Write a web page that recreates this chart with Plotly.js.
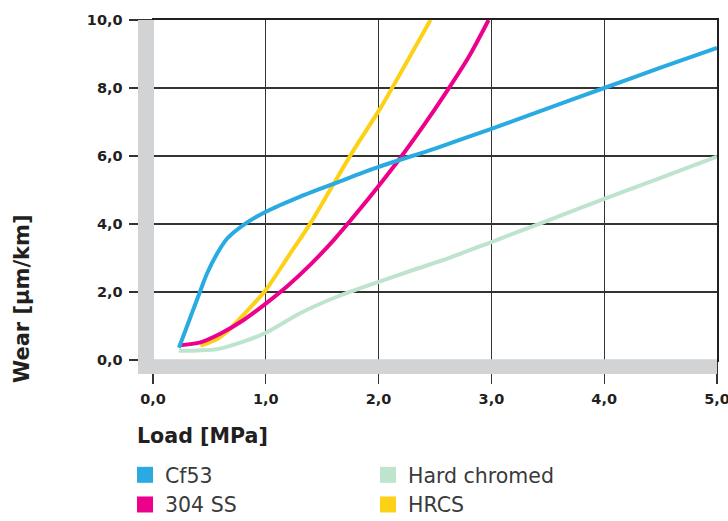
<!DOCTYPE html>
<html>
<head>
<meta charset="utf-8">
<script src="https://cdn.plot.ly/plotly-3.0.1.min.js"></script>
<style>html,body{margin:0;padding:0;background:#fff;}#chart{width:728px;height:521px;}</style>
</head>
<body>
<div id="chart"></div>
<script>
// ---- data ----
const seriesNames = ["Cf53", "Hard chromed", "304 SS", "HRCS"];

const cf53Load = [0.23, 0.3, 0.4, 0.48, 0.57, 0.66, 0.8, 1.0, 1.3, 1.63, 2.0, 2.5, 3.0, 3.5, 4.0, 4.5, 5.0];
const cf53Wear = [0.36, 0.98, 1.86, 2.55, 3.14, 3.58, 3.97, 4.36, 4.8, 5.22, 5.68, 6.22, 6.8, 7.4, 8.0, 8.6, 9.18];

const hardLoad = [0.23, 0.4, 0.57, 0.8, 1.0, 1.3, 1.63, 2.0, 2.3, 2.64, 3.0, 3.5, 4.0, 4.5, 5.0];
const hardWear = [0.27, 0.28, 0.32, 0.54, 0.8, 1.37, 1.86, 2.3, 2.64, 3.02, 3.47, 4.1, 4.74, 5.36, 5.98];

const ssLoad = [0.23, 0.42, 0.6, 0.8, 1.0, 1.2, 1.4, 1.6, 1.8, 2.0, 2.2, 2.4, 2.6, 2.8, 2.975];
const ssWear = [0.43, 0.52, 0.78, 1.17, 1.66, 2.2, 2.82, 3.52, 4.3, 5.12, 5.98, 6.9, 7.88, 8.92, 10.0];

const hrcsLoad = [0.42, 0.57, 0.656, 0.8, 1.0, 1.2, 1.395, 1.587, 1.78, 2.015, 2.2, 2.46];
const hrcsWear = [0.42, 0.62, 0.83, 1.32, 2.06, 3.05, 4.02, 5.1, 6.18, 7.4, 8.47, 10.0];

const xTickVals = [0, 1, 2, 3, 4, 5];
const xTickText = ["0,0", "1,0", "2,0", "3,0", "4,0", "5,0"];
const yTickVals = [0, 2, 4, 6, 8, 10];
const yTickText = ["0,0", "2,0", "4,0", "6,0", "8,0", "10,0"];

// ---- styles ----
const colors = {"Cf53": "#29abe2", "Hard chromed": "#bfe4cd", "304 SS": "#ec008c", "HRCS": "#fcd116"};
const LW = 4;
const FONT = "DejaVu Sans, Arial, sans-serif";

function lineTrace(name, x, y) {
  return {x: x, y: y, type: "scatter", mode: "lines", name: name, showlegend: false,
          line: {color: colors[name], width: LW, shape: "spline", smoothing: 0.8}, hoverinfo: "skip"};
}
function legendProxy(name) {
  return {x: [null], y: [null], type: "scatter", mode: "markers", name: name, showlegend: true,
          marker: {symbol: "square", size: 16, color: colors[name]}, hoverinfo: "skip"};
}

const traces = [
  lineTrace("Hard chromed", hardLoad, hardWear),
  lineTrace("HRCS", hrcsLoad, hrcsWear),
  lineTrace("304 SS", ssLoad, ssWear),
  lineTrace("Cf53", cf53Load, cf53Wear),
  legendProxy("Cf53"),
  legendProxy("Hard chromed"),
  legendProxy("304 SS"),
  legendProxy("HRCS")
];

const W = 728, H = 521;
const mL = 153, mR = 11, mT = 20, mB = 161;
const pw = W - mL - mR, ph = H - mT - mB;
const px = v => (v - mL) / pw;      // pixel -> paper x
const py = v => (H - mB - v) / ph;  // pixel -> paper y

const layout = {
  width: W, height: H,
  margin: {l: mL, r: mR, t: mT, b: mB, pad: 0, autoexpand: false},
  paper_bgcolor: "#ffffff", plot_bgcolor: "#ffffff",
  font: {family: FONT, color: "#231f20"},
  showlegend: true,
  xaxis: {
    range: [0, 5], fixedrange: true, automargin: false,
    tickvals: xTickVals, ticktext: xTickText, ticklabeloverflow: "allow", ticklabelstandoff: 3,
    ticks: "outside", ticklen: 22, tickwidth: 1.3, tickcolor: "#333333",
    tickfont: {family: FONT, size: 14.5, color: "#231f20", weight: "bold"},
    showgrid: true, gridcolor: "#333333", gridwidth: 1.3,
    zeroline: false,
    showline: true, mirror: true, linecolor: "#231f20", linewidth: 2
  },
  yaxis: {
    range: [0, 10], fixedrange: true, automargin: false,
    tickvals: yTickVals, ticktext: yTickText, ticklabeloverflow: "allow", ticklabelstandoff: 3,
    ticks: "outside", ticklen: 23, tickwidth: 1.3, tickcolor: "#333333",
    tickfont: {family: FONT, size: 14.5, color: "#231f20", weight: "bold"},
    showgrid: true, gridcolor: "#333333", gridwidth: 1.3,
    zeroline: false,
    showline: true, mirror: true, linecolor: "#231f20", linewidth: 1.5
  },
  shapes: [
    {type: "rect", xref: "paper", yref: "paper", layer: "above",
     x0: px(138), x1: px(154), y0: py(374), y1: 1, fillcolor: "#d1d3d4", line: {width: 0}},
    {type: "rect", xref: "paper", yref: "paper", layer: "above",
     x0: px(138), x1: 1, y0: py(374), y1: py(359.3), fillcolor: "#d1d3d4", line: {width: 0}}
  ],
  annotations: [
    {text: "Wear [µm/km]", xref: "paper", yref: "paper", x: px(22), y: py(299),
     xanchor: "center", yanchor: "middle", textangle: -90, showarrow: false,
     font: {family: FONT, size: 21, color: "#231f20", weight: "bold"}},
    {text: "Load [MPa]", xref: "paper", yref: "paper", x: px(135), y: py(436),
     xanchor: "left", yanchor: "middle", showarrow: false,
     font: {family: FONT, size: 20.6, color: "#231f20", weight: "bold"}}
  ],
  legend: {
    orientation: "h", x: px(125), y: py(455), xanchor: "left", yanchor: "top",
    entrywidth: 198, entrywidthmode: "pixels", itemsizing: "trace",
    font: {family: FONT, size: 20.5, color: "#3a3a3a"},
    bgcolor: "rgba(0,0,0,0)", borderwidth: 0, tracegroupgap: 0
  }
};

Plotly.newPlot("chart", traces, layout, {displayModeBar: false, staticPlot: true});
</script>
</body>
</html>
